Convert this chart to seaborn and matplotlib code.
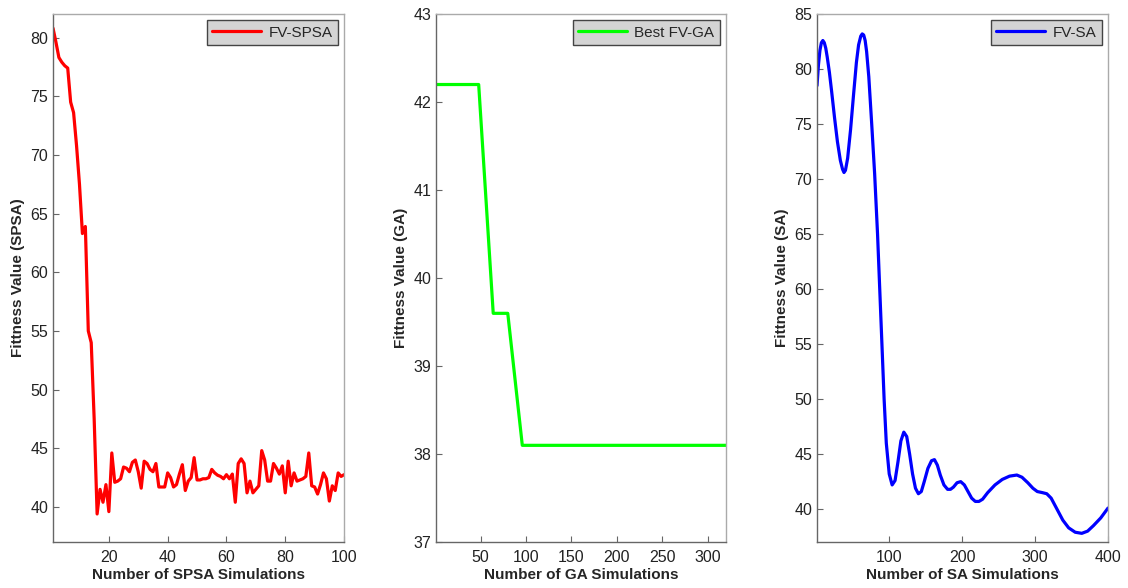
import numpy as np
import pandas as pd
import matplotlib
matplotlib.use("Agg")
import matplotlib.pyplot as plt
import seaborn as sns

# SPSA fitness value per simulation
spsa_x = list(range(1, 101))
spsa_y = [80.8, 79.6, 78.3, 77.9, 77.6, 77.4, 74.5, 73.6, 70.8, 67.5,
          63.3, 63.9, 55.0, 54.0, 47.5, 39.4, 41.5, 40.4, 41.9, 39.6,
          44.6, 42.1, 42.2, 42.4, 43.4, 43.3, 43.0, 43.8, 44.0, 43.0,
          41.6, 43.9, 43.7, 43.2, 43.0, 43.7, 41.7, 41.7, 41.7, 42.9,
          42.5, 41.7, 41.9, 42.8, 43.6, 41.4, 42.2, 42.5, 44.2, 42.3,
          42.3, 42.4, 42.4, 42.5, 43.2, 42.9, 42.7, 42.6, 42.4, 42.75,
          42.4, 42.8, 40.4, 43.7, 44.1, 43.7, 41.2, 42.2, 41.2, 41.5,
          41.8, 44.8, 44.0, 42.2, 42.2, 43.7, 43.3, 42.8, 43.5, 41.2,
          43.9, 41.8, 42.9, 42.2, 42.3, 42.4, 42.6, 44.6, 41.8, 41.7,
          41.1, 41.9, 42.9, 42.4, 40.5, 41.8, 41.4, 42.9, 42.6, 42.75]

# best GA fitness value (step changes)
ga_x = [1, 48, 64, 80, 96, 320]
ga_y = [42.2, 42.2, 39.6, 39.6, 38.1, 38.1]

# SA fitness value
sa_x = [1, 3, 5, 7, 9, 11, 13, 15, 18, 21, 25, 29, 33, 36, 38, 40, 43, 47,
        51, 55, 58, 61, 63, 65, 67, 69, 72, 76, 80, 84, 87, 90, 93, 96, 100,
        104, 108, 112, 116, 120, 124, 128, 132, 136, 140, 144, 148, 153, 158,
        162, 166, 170, 175, 180, 184, 188, 193, 198, 203, 208, 213, 218, 223,
        228, 235, 245, 255, 265, 275, 282, 290, 297, 303, 310, 316, 322, 330,
        338, 346, 355, 364, 372, 380, 390, 400]
sa_y = [78.5, 80.4, 81.7, 82.4, 82.6, 82.4, 81.9, 81.1, 79.7, 78.0, 75.6,
        73.4, 71.7, 70.9, 70.6, 70.8, 71.9, 74.5, 77.6, 80.6, 82.2, 83.0,
        83.2, 83.1, 82.6, 81.6, 79.3, 75.0, 70.5, 65.0, 60.0, 55.0, 50.0,
        46.0, 43.2, 42.2, 42.6, 44.3, 46.2, 47.0, 46.6, 45.0, 43.2, 41.9,
        41.4, 41.6, 42.5, 43.7, 44.4, 44.5, 44.0, 43.1, 42.2, 41.8, 41.8,
        42.0, 42.4, 42.5, 42.2, 41.6, 41.0, 40.7, 40.7, 40.9, 41.5, 42.2,
        42.7, 43.0, 43.1, 42.9, 42.4, 41.9, 41.6, 41.5, 41.4, 41.0, 40.0,
        39.0, 38.3, 37.9, 37.8, 38.0, 38.5, 39.2, 40.1]

sns.set_style("white")
plt.rcParams['font.family'] = ['Liberation Sans', 'DejaVu Sans']
plt.rcParams['xtick.bottom'] = True
plt.rcParams['ytick.left'] = True

fig = plt.figure(figsize=(11.28, 5.88), dpi=100)
ax1 = fig.add_axes([0.047, 0.078, 0.258, 0.898])
ax2 = fig.add_axes([0.3865, 0.078, 0.257, 0.898])
ax3 = fig.add_axes([0.7243, 0.078, 0.258, 0.898])

panels = [
    (ax1, spsa_x, spsa_y, "#ff0000", "FV-SPSA", "Number of SPSA Simulations",
     "Fittness Value (SPSA)", (1, 100), (37, 82), range(20, 101, 20), range(40, 81, 5)),
    (ax2, ga_x, ga_y, "#00ff00", "Best FV-GA", "Number of GA Simulations",
     "Fittness Value (GA)", (1, 320), (37, 43), range(50, 301, 50), range(37, 44)),
    (ax3, sa_x, sa_y, "#0000ff", "FV-SA", "Number of SA Simulations",
     "Fittness Value (SA)", (1, 400), (37, 85), range(100, 401, 100), range(40, 86, 5)),
]

for ax, x, y, col, lab, xl, yl, xlim, ylim, xt, yt in panels:
    df = pd.DataFrame({"x": x, "y": y})
    sns.lineplot(data=df, x="x", y="y", ax=ax, color=col, linewidth=2.3, label=lab)
    ax.set_xlim(*xlim)
    ax.set_ylim(*ylim)
    ax.set_xticks(list(xt))
    ax.set_yticks(list(yt))
    ax.set_xlabel(xl, fontsize=11, fontweight="bold", labelpad=2)
    ax.set_ylabel(yl, fontsize=11, fontweight="bold", labelpad=4)
    ax.tick_params(axis="both", direction="in", length=4, width=0.8, labelsize=11.5,
                   color="#666666", labelcolor="#222222", bottom=True, left=True)
    ax.tick_params(axis="x", pad=6)
    for s in ["left", "bottom"]:
        ax.spines[s].set_color("#666666")
        ax.spines[s].set_linewidth(1.0)
    for s in ["top", "right"]:
        ax.spines[s].set_color("#aaaaaa")
        ax.spines[s].set_linewidth(1.0)
    leg = ax.legend(loc="upper right", fontsize=11, frameon=True, fancybox=False,
                    borderpad=0.35, handlelength=3.2, handletextpad=0.5,
                    borderaxespad=0.4)
    leg.get_frame().set_facecolor("#d4d4d4")
    leg.get_frame().set_edgecolor("#444444")
    leg.get_frame().set_alpha(1)

plt.savefig("out.png", dpi=100)
